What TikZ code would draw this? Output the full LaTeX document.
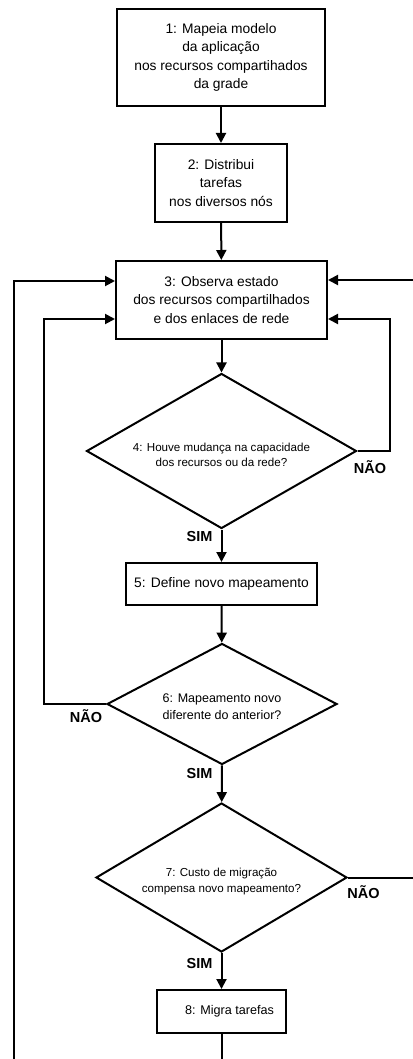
\documentclass[tikz,border=0pt]{standalone}
\usepackage{fontspec}
\setmainfont{Liberation Sans}
\usetikzlibrary{arrows.meta,shapes.geometric}
\begin{document}
\begin{tikzpicture}[x=1pt,y=-1pt,
  line width=2pt,
  flow/.style={-{Triangle[length=10pt,width=10pt]}},
  stepbox/.style={draw, rectangle, align=center, inner sep=0pt,
    font=\fontsize{13.8}{18.5}\selectfont},
  decision/.style={draw, diamond, inner sep=0pt},
  question/.style={align=center, inner sep=0pt},
  answer/.style={font=\bfseries\fontsize{14.5}{16}\selectfont, inner sep=0pt}
]
\useasboundingbox (0,0) rectangle (412,1059);

% process steps
\node[stepbox, minimum width=208pt, minimum height=97pt] (b1) at (221,57.5)
  {1: Mapeia modelo\\da aplicação\\nos recursos compartihados\\da grade};
\node[stepbox, minimum width=132pt, minimum height=78pt] (b2) at (221,183)
  {2: Distribui\\tarefas\\nos diversos nós};
\node[stepbox, minimum width=211pt, minimum height=78pt] (b3) at (221.5,300)
  {3: Observa estado\\dos recursos compartilhados\\e dos enlaces de rede};
\node[stepbox, minimum width=191pt, minimum height=42pt] (b5) at (221.5,584)
  {5: Define novo mapeamento};
\node[stepbox, minimum width=129pt, minimum height=43pt] (b8) at (221.5,1011.5) {};
\node[question, font=\fontsize{12.6}{14}\selectfont] (t8) at (229.5,1011.5)
  {8: Migra tarefas};

% decisions, with their questions set on top
\node[decision, minimum width=270pt, minimum height=155pt] (d4) at (221.5,451) {};
\node[question, font=\fontsize{11.6}{14.6}\selectfont] (t4) at (221.5,455)
  {4: Houve mudança na capacidade\\dos recursos ou da rede?};
\node[decision, minimum width=230pt, minimum height=121pt] (d6) at (222,704) {};
\node[question, font=\fontsize{12.5}{16.7}\selectfont] (t6) at (222,707)
  {6: Mapeamento novo\\diferente do anterior?};
\node[decision, minimum width=251pt, minimum height=149pt] (d7) at (221.5,877.5) {};
\node[question, font=\fontsize{11.6}{16.7}\selectfont] (t7) at (221.5,881.5)
  {7: Custo de migração\\compensa novo mapeamento?};

% branch labels
\node[answer] (n4) at (370,467) {NÃO};
\node[answer] (s4) at (199.5,537) {SIM};
\node[answer] (n6) at (86,716) {NÃO};
\node[answer] (s6) at (199.5,773) {SIM};
\node[answer] (n7) at (363.5,892) {NÃO};
\node[answer] (s7) at (199.5,963) {SIM};

% loose ends of the outer loops
\coordinate (rtop) at (413,280);
\coordinate (r7) at (413,877.5);
\coordinate (lbot) at (14,1060);
\coordinate (bot) at (221.5,1060);

% main sequence
\draw[flow] (b1) -- (b2);
\draw[flow] (b2) -- (b3);
\draw[flow] (b3) -- (d4);
\draw[flow] (d4) -- (b5);
\draw[flow] (b5) -- (d6);
\draw[flow] (d6) -- (d7);
\draw[flow] (d7) -- (b8);
\draw (b8) -- (bot);

% feedback loops
\draw[flow] (d4.east) -- (390,451) |- ([yshift=-19pt]b3.east);
\draw[flow] (d6.west) -- (43.5,704) |- ([yshift=-19pt]b3.west);
\draw[flow] (rtop) -- (rtop -| b3.east);
\draw (d7.east) -- (r7);
\draw[flow] (lbot) |- ([yshift=19pt]b3.west);
\end{tikzpicture}
\end{document}
